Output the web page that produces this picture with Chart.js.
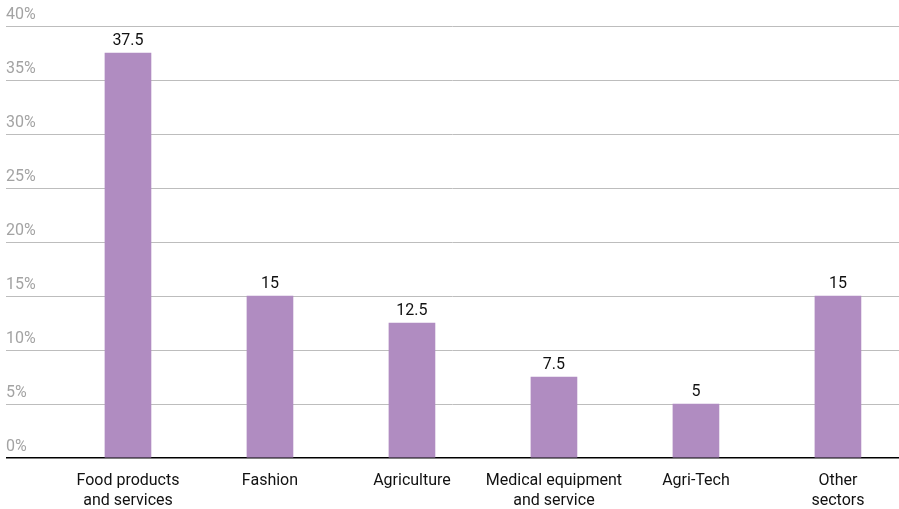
<!DOCTYPE html>
<html>
<head>
<meta charset="utf-8">
<script src="https://cdn.jsdelivr.net/npm/chart.js@4.4.1/dist/chart.umd.min.js"></script>
<style>
  html, body { margin: 0; padding: 0; background: #fff; overflow: hidden; }
  #wrap { width: 899px; height: 509px; position: relative; }
</style>
</head>
<body>
<div id="wrap"><canvas id="c"></canvas></div>
<script>
const categories = [
  ["Food products", "and services"],
  ["Fashion"],
  ["Agriculture"],
  ["Medical equipment", "and service"],
  ["Agri-Tech"],
  ["Other", "sectors"]
];
const values = [37.5, 15, 12.5, 7.5, 5, 15];
const yTicks = [0, 5, 10, 15, 20, 25, 30, 35, 40];

const FONT = "Roboto, 'Open Sans', sans-serif";

const valueLabels = {
  id: 'valueLabels',
  afterDatasetsDraw(chart) {
    const ctx = chart.ctx;
    const meta = chart.getDatasetMeta(0);
    ctx.save();
    ctx.font = "16px " + FONT;
    ctx.fillStyle = '#111';
    ctx.textAlign = 'center';
    ctx.textBaseline = 'alphabetic';
    meta.data.forEach((bar, i) => {
      ctx.fillText(String(values[i]), bar.x, bar.y - 8);
    });
    ctx.restore();
  }
};

new Chart(document.getElementById('c'), {
  type: 'bar',
  data: {
    datasets: [{
      data: values.map((v, i) => ({ x: i, y: v })),
      backgroundColor: '#b08cc1',
      barThickness: 46
    }]
  },
  options: {
    responsive: true,
    maintainAspectRatio: false,
    animation: false,
    layout: { padding: { left: 6, right: 0, top: 26, bottom: 1 } },
    plugins: { legend: { display: false }, tooltip: { enabled: false } },
    scales: {
      x: {
        type: 'linear',
        offset: false,
        min: -0.859,
        max: 5.43,
        afterBuildTicks: (axis) => { axis.ticks = categories.map((_, i) => ({ value: i })); },
        afterFit: (axis) => { axis.height = 50; },
        grid: { display: false, drawTicks: false },
        border: { display: false },
        ticks: {
          autoSkip: false,
          maxRotation: 0,
          padding: 13,
          color: '#111',
          font: { family: FONT, size: 16, lineHeight: 1.25 },
          callback: (v) => categories[v]
        }
      },
      y: {
        min: 0,
        max: 40,
        afterBuildTicks: (axis) => { axis.ticks = yTicks.map(v => ({ value: v })); },
        grid: {
          drawTicks: false,
          color: (c) => c.tick && c.tick.value === 0 ? '#000' : '#bdbdbd',
          lineWidth: (c) => c.tick && c.tick.value === 0 ? 1.5 : 1
        },
        border: { display: false },
        ticks: {
          mirror: true,
          padding: 0,
          labelOffset: -11,
          color: '#a3a3a3',
          font: { family: FONT, size: 16 },
          callback: (v) => v + '%'
        }
      }
    }
  },
  plugins: [valueLabels]
});
</script>
</body>
</html>
